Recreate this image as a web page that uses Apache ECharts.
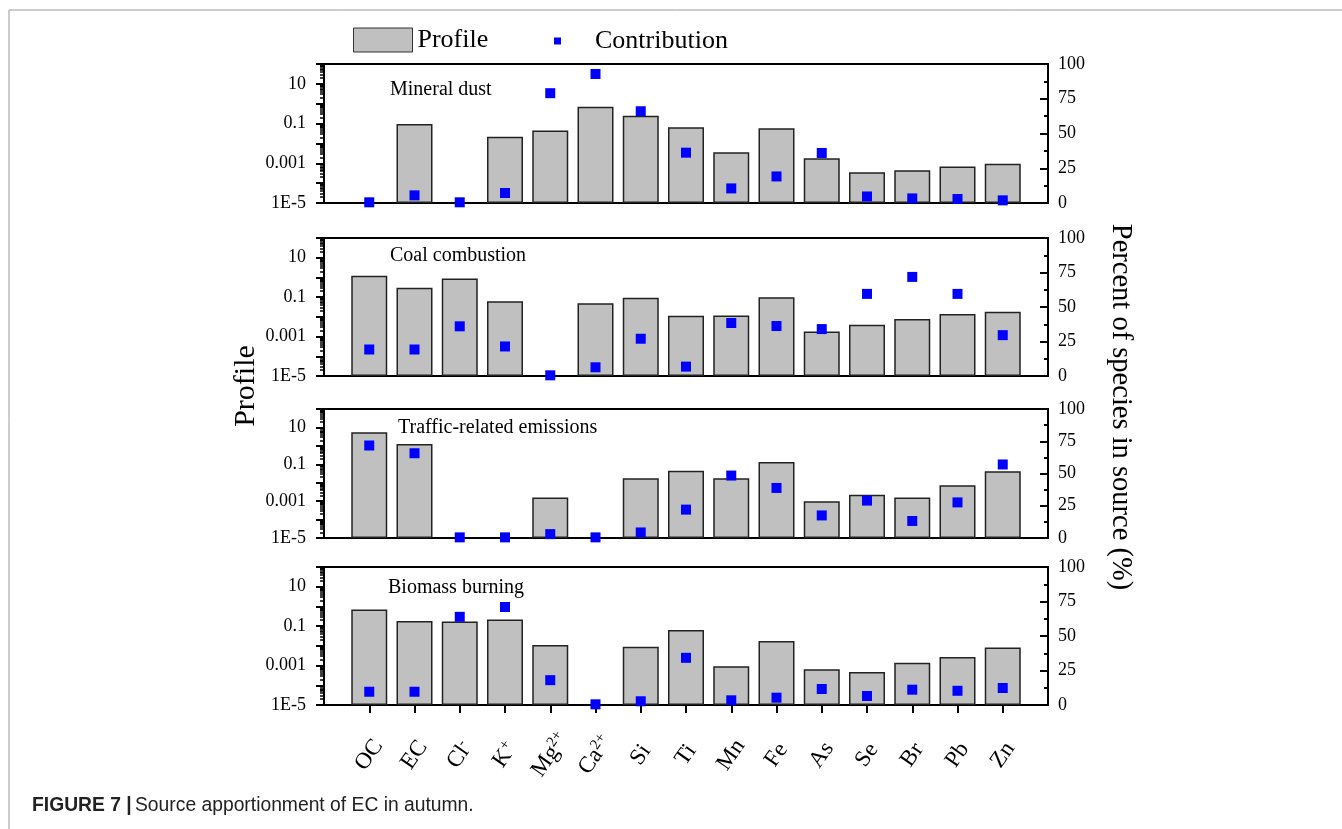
<!DOCTYPE html>
<html>
<head>
<meta charset="utf-8">
<script src="https://cdn.jsdelivr.net/npm/echarts@6/dist/echarts.min.js"></script>
<style>
  html, body { margin: 0; padding: 0; background: #fff; }
  #chart { width: 1342px; height: 829px; }
</style>
</head>
<body>
<div id="chart"></div>
<script>
// Species on the x axis, with their ionic charges drawn as superscripts
const species = ['OC', 'EC', 'Cl', 'K', 'Mg', 'Ca', 'Si', 'Ti', 'Mn', 'Fe', 'As', 'Se', 'Br', 'Pb', 'Zn'];
const charges = ['', '', '-', '+', '2+', '2+', '', '', '', '', '', '', '', '', ''];

// Source factors, one panel each
const sources = ['Mineral dust', 'Coal combustion', 'Traffic-related emissions', 'Biomass burning'];

// Factor profiles (log scale, left axis); null = not present in the profile
const profileMineral = [null, 0.095, null, 0.022, 0.045, 0.71, 0.25, 0.065, 0.0036, 0.058, 0.0018, 0.00035, 0.00044, 0.00069, 0.00096];
const profileCoal = [1.2, 0.30, 0.87, 0.062, null, 0.049, 0.093, 0.0115, 0.0117, 0.10, 0.0018, 0.004, 0.0079, 0.0138, 0.018];
const profileTraffic = [5.5, 1.28, null, null, 0.0016, null, 0.0174, 0.044, 0.0174, 0.135, 0.001, 0.0022, 0.0016, 0.0072, 0.042];
const profileBiomass = [0.69, 0.18, 0.17, 0.22, 0.0112, null, 0.0089, 0.063, 0.00093, 0.0174, 0.00065, 0.00047, 0.0014, 0.0027, 0.0083];

// Percent of each species apportioned to the source (right axis)
const contribMineral = [0.5, 5.5, 0.5, 7.2, 79, 92.8, 66, 36.2, 10.5, 19.1, 36, 4.7, 3.3, 2.9, 1.9];
const contribCoal = [19.2, 19.2, 36, 21.4, 0.5, 6.3, 27, 6.8, 38.4, 36.2, 34, 59.5, 71.8, 59.5, 29.6];
const contribTraffic = [71.7, 65.7, 0.5, 0.5, 3, 0.5, 4.3, 22, 48.4, 38.8, 17.5, 29, 13.2, 27.6, 57];
const contribBiomass = [9.6, 9.6, 63.9, 71, 18, 0.5, 2.7, 34.2, 3.4, 5.3, 11.6, 6.5, 11.1, 10.3, 12.3];

// Labelled ticks of the logarithmic profile axis
const logTickValues = [1e-5, 1e-3, 0.1, 10];
const logTickLabels = ['1E-5', '0.001', '0.1', '10'];

const profiles = [profileMineral, profileCoal, profileTraffic, profileBiomass];
const contribs = [contribMineral, contribCoal, contribTraffic, contribBiomass];

// Panel layout
const gridTops = [64, 238, 409, 567];
const gridHeights = [139, 138, 129, 138];
const serif = 'Liberation Serif';
const sans = 'Liberation Sans';

// the x axis keeps an empty slot on each side of the species
const pad = arr => [null].concat(arr, [null]);
const xCategories = [''].concat(species, [' ']);
const nSpecies = species.length;

const grids = [], xAxes = [], yAxes = [], series = [];

for (let i = 0; i < 4; i++) {
  const isLast = i === 3;
  grids.push({
    left: 324, width: 724, top: gridTops[i], height: gridHeights[i],
    show: true, borderColor: '#000', borderWidth: 2, backgroundColor: 'transparent'
  });
  xAxes.push({
    type: 'category', gridIndex: i, data: xCategories, boundaryGap: false,
    axisLine: { show: true, lineStyle: { color: '#000', width: 2 } },
    axisTick: {
      show: isLast, inside: false, length: 8,
      interval: idx => idx >= 1 && idx <= nSpecies,
      lineStyle: { color: '#000', width: 2 }
    },
    splitLine: { show: false },
    axisLabel: {
      // rotated labels are centred under their tick
      show: isLast, rotate: 55, margin: 50, interval: 0, color: '#000',
      align: 'center', verticalAlign: 'middle',
      fontFamily: serif, fontSize: 23,
      formatter: (v, idx) => {
        if (idx < 1 || idx > nSpecies) return '';
        const c = charges[idx - 1];
        return c ? '{b|' + v + '}{s|' + c + '}' : '{b|' + v + '}';
      },
      rich: {
        b: { fontFamily: serif, fontSize: 23, color: '#000', lineHeight: 26 },
        s: { fontFamily: serif, fontSize: 15, color: '#000', lineHeight: 15, verticalAlign: 'top' }
      }
    }
  });
  yAxes.push({
    type: 'log', logBase: 10, gridIndex: i, min: 1e-5, max: 100, startValue: 1e-5,
    position: 'left',
    axisLine: { show: true, lineStyle: { color: '#000', width: 2 } },
    axisTick: { show: true, inside: false, length: 8, lineStyle: { color: '#000', width: 2 } },
    minorTick: { show: true, splitNumber: 9, length: 4, lineStyle: { color: '#000', width: 1.5 } },
    splitLine: { show: false },
    axisLabel: {
      color: '#000', fontFamily: serif, fontSize: 18, margin: 18,
      formatter: v => {
        const k = logTickValues.findIndex(t => Math.abs(Math.log10(t) - Math.log10(v)) < 1e-6);
        return k >= 0 ? logTickLabels[k] : '';
      }
    }
  });
  yAxes.push({
    type: 'value', gridIndex: i, min: 0, max: 100, interval: 25, position: 'right',
    axisLine: { show: true, lineStyle: { color: '#000', width: 2 } },
    axisTick: { show: true, inside: true, length: 8, lineStyle: { color: '#000', width: 2 } },
    minorTick: { show: true, splitNumber: 2, length: 4, lineStyle: { color: '#000', width: 2 } },
    splitLine: { show: false },
    axisLabel: { color: '#000', fontFamily: serif, fontSize: 18, margin: 10 }
  });
  series.push({
    type: 'bar', name: 'Profile', xAxisIndex: i, yAxisIndex: 2 * i,
    data: pad(profiles[i]), barWidth: 36,
    itemStyle: { color: '#c0c0c0', borderColor: '#222', borderWidth: 1.5 },
    z: 2
  });
  series.push({
    type: 'scatter', name: 'Contribution', xAxisIndex: i, yAxisIndex: 2 * i + 1,
    data: pad(contribs[i]), symbol: 'rect', symbolSize: 10,
    itemStyle: { color: '#0000ff', opacity: 1 },
    z: 3
  });
}

const titleY = [90, 256, 428, 588];
const titleX = [390, 390, 398, 388];
const graphic = [
  {
    type: 'polyline', silent: true,
    shape: { points: [[9, 829], [9, 10], [1342, 10]] },
    style: { stroke: '#9a9a9a', lineWidth: 1, fill: null }
  },
  {
    type: 'text', x: 246, y: 386, rotation: Math.PI / 2, silent: true,
    style: { text: 'Profile', fontFamily: serif, fontSize: 30, fill: '#000',
      textAlign: 'center', textVerticalAlign: 'middle', align: 'center', verticalAlign: 'middle' }
  },
  {
    type: 'text', x: 1120, y: 407, rotation: -Math.PI / 2, silent: true,
    style: { text: 'Percent of species in source (%)', fontFamily: serif, fontSize: 28.5, fill: '#000',
      textAlign: 'center', textVerticalAlign: 'middle', align: 'center', verticalAlign: 'middle' }
  },
  {
    type: 'text', x: 32, y: 806, silent: true,
    style: {
      text: '{h|FIGURE 7 |} {t|Source apportionment of EC in autumn.}',
      rich: {
        h: { fontFamily: sans, fontSize: 19.3, fontWeight: 'bold', fill: '#222' },
        t: { fontFamily: sans, fontSize: 19.3, fill: '#222' }
      },
      textAlign: 'left', textVerticalAlign: 'middle', align: 'left', verticalAlign: 'middle'
    }
  }
];
sources.forEach((s, i) => {
  graphic.push({
    type: 'text', x: titleX[i], y: titleY[i], silent: true,
    style: { text: s, fontFamily: serif, fontSize: 20, fill: '#000',
      textAlign: 'left', textVerticalAlign: 'middle', align: 'left', verticalAlign: 'middle' }
  });
});

const chart = echarts.init(document.getElementById('chart'), null, { renderer: 'canvas' });
chart.setOption({
  animation: false,
  backgroundColor: '#fff',
  grid: grids,
  xAxis: xAxes,
  yAxis: yAxes,
  series: series,
  legend: [
    {
      data: [{ name: 'Profile', icon: 'rect', itemStyle: { color: '#c0c0c0', borderColor: '#333', borderWidth: 1 } }],
      left: 353, top: 27, padding: 0, itemWidth: 59, itemHeight: 24, selectedMode: false,
      textStyle: { fontFamily: serif, fontSize: 26, color: '#000' }
    },
    {
      data: [{ name: 'Contribution', icon: 'rect', itemStyle: { color: '#0000ff', opacity: 1 } }],
      left: 554, top: 28, padding: 0, itemWidth: 7, itemHeight: 7, selectedMode: false,
      textStyle: { fontFamily: serif, fontSize: 26, color: '#000', padding: [0, 0, 0, 29] }
    }
  ],
  graphic: graphic
});
</script>
</body>
</html>
